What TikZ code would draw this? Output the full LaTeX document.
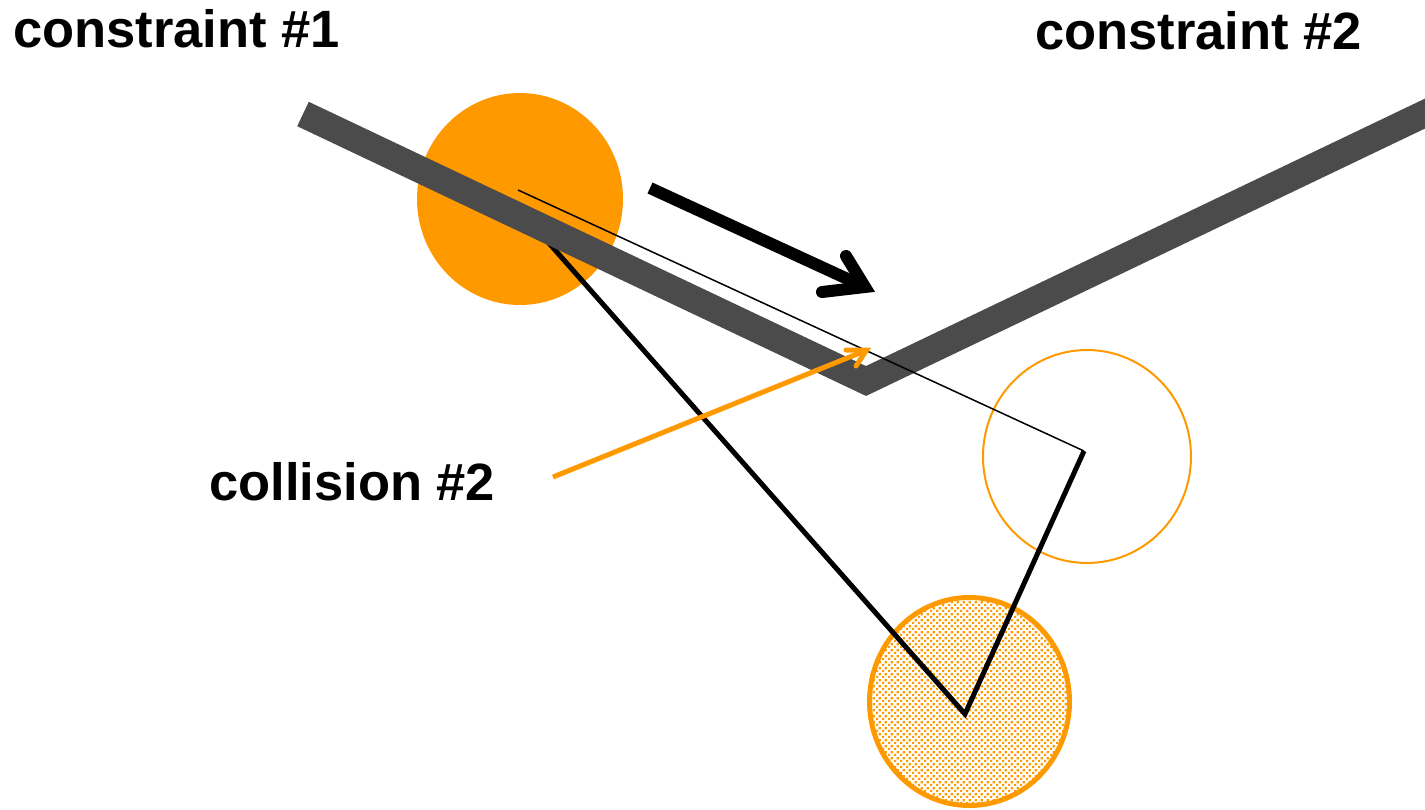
\documentclass[tikz,border=0pt]{standalone}
\usepackage{fontspec}
\setmainfont{Liberation Sans}
\usetikzlibrary{patterns.meta}
\definecolor{org}{HTML}{FF9900}
\definecolor{bar}{HTML}{4B4B4B}
\pgfdeclarepattern{
  name=odots,
  type=uncolored,
  bottom left={\pgfpoint{0pt}{0pt}},
  top right={\pgfpoint{6pt}{6pt}},
  tile size={\pgfpoint{6pt}{6pt}},
  code={
    \pgfpathrectangle{\pgfpoint{0pt}{0pt}}{\pgfpoint{2.6pt}{2.6pt}}
    \pgfpathrectangle{\pgfpoint{3pt}{3pt}}{\pgfpoint{2.6pt}{2.6pt}}
    \pgfusepath{fill}
  }
}
\tikzset{
  lbl/.style={inner sep=0pt, anchor=base west, font=\bfseries\fontsize{52.5}{60}\selectfont},
  ball/.style={fill=org},
  ghost/.style={draw=org, line width=2pt},
  target/.style={draw=org, line width=5pt, pattern=odots, pattern color=org},
  wall/.style={draw=bar, line width=27pt, line join=miter},
  paththick/.style={draw=black, line width=5pt, line join=miter},
  paththin/.style={draw=black, line width=1.5pt},
  bigarrow/.style={draw=black, line width=12pt},
  orgarrow/.style={draw=org, line width=5pt}
}
\begin{document}
\begin{tikzpicture}[x=1pt,y=-1pt]
\useasboundingbox (0,0) rectangle (1425,809);
% balls
\fill[ball] (520,199) ellipse [x radius=103, y radius=106];
\draw[target] (969.5,701.5) ellipse [x radius=100, y radius=104];
\draw[ghost] (1087,456.5) ellipse [x radius=104, y radius=106.5];
% coordinates
\coordinate (s0) at (540,233);
\coordinate (p1) at (965,714);
\coordinate (p2) at (1084,451);
\coordinate (t0) at (518,190);
\coordinate (w0) at (303,114);
\coordinate (w1) at (866,381);
\coordinate (w2) at (1445,104);
\coordinate (a0) at (650,188);
\coordinate (av) at (865,287);
\coordinate (ab1) at (846,256);
\coordinate (ab2) at (822,292);
\coordinate (o0) at (553,477);
\coordinate (ov) at (866.5,350.2);
\coordinate (ob1) at (846,350);
\coordinate (ob2) at (856,366);
% thick path
\draw[paththick] (s0) -- (p1) -- (p2);
% walls
\draw[wall] (w0) -- (w1) -- (w2);
% thin path
\draw[paththin] (t0) -- (p2);
% black arrow
\draw[bigarrow] (a0) -- (av);
\draw[bigarrow, line cap=round, line join=miter] (ab1) -- (av) -- (ab2);
% orange arrow
\draw[orgarrow] (o0) -- (ov);
\draw[orgarrow, line cap=round, line join=miter] (ob1) -- (ov) -- (ob2);
% labels
\node[lbl] (c1) at (13,47) {constraint \#1};
\node[lbl] (c2) at (1035,49) {constraint \#2};
\node[lbl] (col) at (209,500) {collision \#2};
\end{tikzpicture}
\end{document}
